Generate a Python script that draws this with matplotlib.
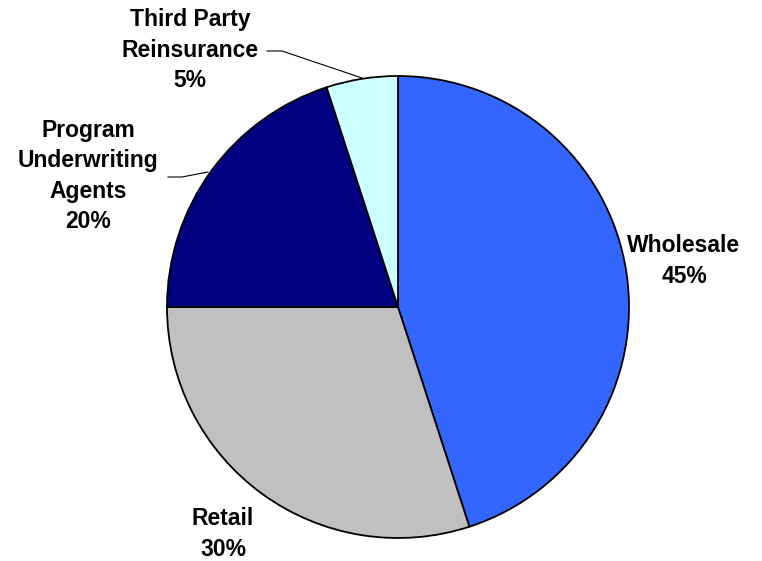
import matplotlib
matplotlib.use("Agg")
import matplotlib.pyplot as plt

categories = ["Wholesale", "Retail", "Program\nUnderwriting\nAgents", "Third Party\nReinsurance"]
shares = [45, 30, 20, 5]
colors = ["#3366FF", "#C0C0C0", "#000080", "#CCFFFF"]

W, H = 762, 561
fig = plt.figure(figsize=(W / 100, H / 100), dpi=100)
ax = fig.add_axes([0, 0, 1, 1])

cx, cy, r = 398, H - 307, 231
ax.pie(shares, colors=colors, startangle=90, counterclock=False,
       center=(cx, cy), radius=r, frame=True,
       wedgeprops=dict(edgecolor="black", linewidth=1.3))
ax.set_xlim(0, W)
ax.set_ylim(0, H)
ax.set_aspect("equal")
ax.axis("off")

font = dict(family="Liberation Sans", fontweight="bold", fontsize=16.5,
            ha="center", va="center", linespacing=1.4)

# label anchor points (centre of text block) and leader lines
label_pos = [(684, 261), (223, 534), (88, 176), (190, 50)]
for name, val, (x, y) in zip(categories, shares, label_pos):
    ax.text(x, H - y, f"{name}\n{val}%", **font)

ax.plot([267, 282, 362], [H - 51, H - 51, H - 78], color="black", lw=0.8)
ax.plot([168, 182, 208], [H - 177, H - 177, H - 172], color="black", lw=0.8)

fig.savefig("out.png", dpi=100)
